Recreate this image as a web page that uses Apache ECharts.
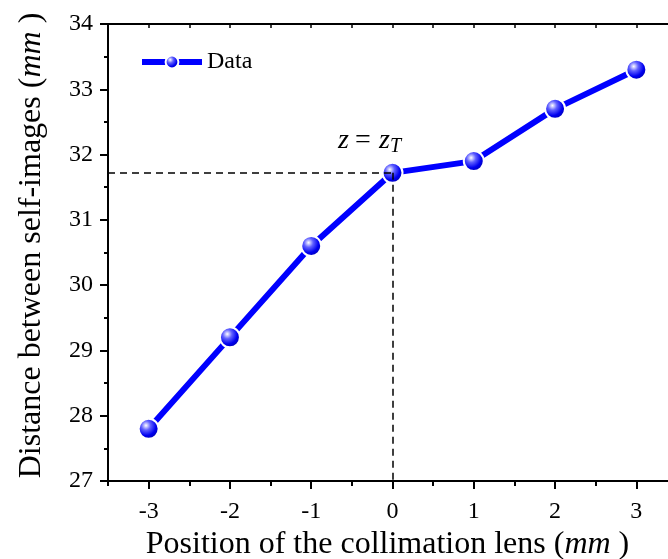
<!DOCTYPE html>
<html><head><meta charset="utf-8">
<script src="https://cdn.jsdelivr.net/npm/echarts@6/dist/echarts.min.js"></script>
<style>html,body{margin:0;padding:0;background:#fff}#c{width:668px;height:559px}</style>
</head><body><div id="c"></div>
<script>
const positions = [-3, -2, -1, 0, 1, 2, 3];
const distances = [27.8, 29.2, 30.6, 31.72, 31.9, 32.7, 33.3];
const refPoint = [0, 31.72];
const xTicks = [-3, -2, -1, 0, 1, 2, 3];
const xMinorTicks = [-3.5, -2.5, -1.5, -0.5, 0.5, 1.5, 2.5, 3.5];
const yTicks = [27, 28, 29, 30, 31, 32, 33, 34];

const F = '"Liberation Serif","Times New Roman",serif';
const chart = echarts.init(document.getElementById('c'));
const sphere = {
  type: 'radial', x: 0.38, y: 0.35, r: 0.7,
  colorStops: [{offset: 0, color: '#ffffff'}, {offset: 0.3, color: '#6060ff'}, {offset: 0.65, color: '#0000f0'}, {offset: 1, color: '#0000a0'}]
};
const titleRich = {a: {fontFamily: F, fontSize: 32, color: '#000'}, b: {fontFamily: F, fontSize: 32, fontStyle: 'italic', color: '#000'}};
chart.setOption({
  animation: false,
  grid: {left: 108, top: 24, width: 569, height: 457, containLabel: false, outerBoundsMode: 'none'},
  legend: {
    left: 134, top: 45, itemWidth: 60, itemHeight: 16, itemGap: 6,
    textStyle: {fontFamily: F, fontSize: 24, color: '#000'},
    lineStyle: {width: 6},
    data: ['Data']
  },
  xAxis: [{
    type: 'value', min: -3.5, max: 3.5,
    position: 'bottom',
    axisLine: {onZero: false, lineStyle: {color: '#000', width: 2}},
    axisTick: {customValues: xTicks, length: 8, lineStyle: {color: '#000', width: 2}},
    axisLabel: {customValues: xTicks, fontFamily: F, fontSize: 24, color: '#000', margin: 19},
    splitLine: {show: false},
    name: '{a|Position of the collimation lens (}{b|mm}{a| )}',
    nameLocation: 'middle', nameGap: 41,
    nameTextStyle: {rich: titleRich, padding: [0, 10, 0, 0]}
  }, {
    type: 'value', min: -3.5, max: 3.5, interval: 0.5, position: 'top',
    axisLine: {onZero: false, lineStyle: {color: '#000', width: 2}},
    axisTick: {inside: true, length: 4, lineStyle: {color: '#000', width: 1.5}},
    axisLabel: {show: false}, splitLine: {show: false}
  }, {
    type: 'value', min: -3.5, max: 3.5, position: 'bottom',
    axisLine: {show: false, onZero: false},
    axisTick: {customValues: xMinorTicks, length: 5, lineStyle: {color: '#000', width: 2}},
    axisLabel: {show: false}, splitLine: {show: false}
  }],
  yAxis: [{
    type: 'value', min: 27, max: 34, interval: 1,
    axisLine: {show: true, onZero: false, lineStyle: {color: '#000', width: 2}},
    axisTick: {length: 8, lineStyle: {color: '#000', width: 2}},
    minorTick: {show: true, splitNumber: 2, length: 4, lineStyle: {color: '#000', width: 2}},
    axisLabel: {fontFamily: F, fontSize: 24, color: '#000', margin: 15},
    splitLine: {show: false},
    name: '{a|Distance between self-images (}{b|mm}{a| )}',
    nameLocation: 'middle', nameGap: 60, nameRotate: 90,
    nameTextStyle: {rich: titleRich, padding: [0, 0, 0, 14]}
  }],
  series: [{
    name: 'Data', type: 'line',
    data: positions.map((x, i) => [x, distances[i]]),
    symbol: 'circle', symbolSize: 20,
    lineStyle: {color: '#0000ff', width: 6},
    itemStyle: {color: sphere, borderColor: '#fff', borderWidth: 2},
    markLine: {
      silent: true, symbol: 'none',
      lineStyle: {type: [7, 5], color: '#000', width: 1.5},
      label: {show: false},
      data: [
        [{coord: [-3.5, refPoint[1]]}, {coord: refPoint}],
        [{coord: refPoint}, {coord: [refPoint[0], 27]}]
      ]
    },
    z: 3
  }],
  graphic: [
    {type: 'text', left: 338, top: 127, style: {text: 'z', font: 'italic 28px ' + F, fill: '#000'}},
    {type: 'text', left: 355, top: 127, style: {text: '=', font: '28px ' + F, fill: '#000'}},
    {type: 'text', left: 379, top: 127, style: {text: 'z', font: 'italic 28px ' + F, fill: '#000'}},
    {type: 'text', left: 390, top: 137, style: {text: 'T', font: 'italic 20px ' + F, fill: '#000'}}
  ]
});
</script></body></html>
